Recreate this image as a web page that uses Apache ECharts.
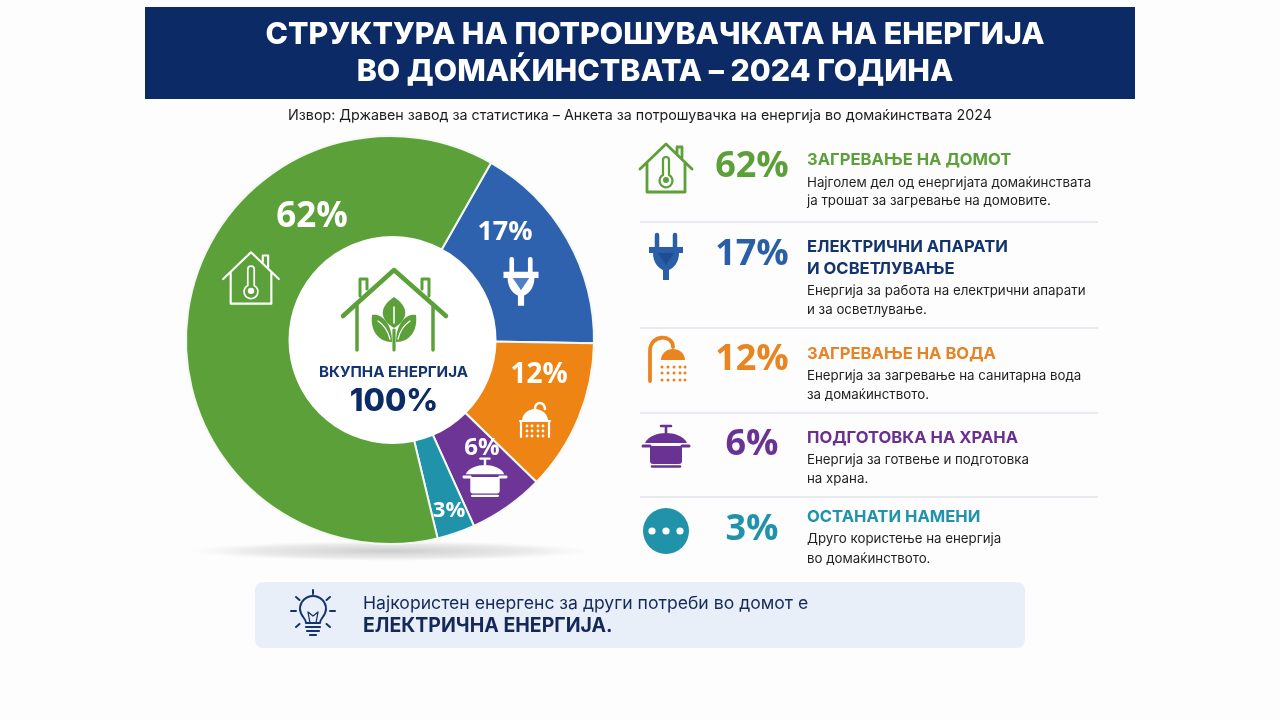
<!DOCTYPE html>
<html><head><meta charset="utf-8">
<style>html,body{margin:0;padding:0;background:#fdfdfd}#c{width:1280px;height:720px}</style>
<script src="https://cdn.jsdelivr.net/npm/echarts@6/dist/echarts.min.js"></script>
</head><body><div id="c"></div>
<script>
// ---- data ----
const categories = ['Електрични апарати и осветлување','Загревање на вода','Подготовка на храна','Останати намени','Загревање на домот'];
const shares = [17,12,6,3,62];
const sliceColors = ['#2f62ae','#ee8413','#6c3596','#2093ab','#5ca03a'];
const titleLines = ['СТРУКТУРА НА ПОТРОШУВАЧКАТА НА ЕНЕРГИЈА','ВО ДОМАЌИНСТВАТА – 2024 ГОДИНА'];
const sourceLine = 'Извор: Државен завод за статистика – Анкета за потрошувачка на енергија во домаќинствата 2024';
const centerLabel = 'ВКУПНА ЕНЕРГИЈА';
const centerValue = '100%';
const rowValues = [62,17,12,6,3];
const rowColors = ['#5ca03a','#2a5fa8','#ea8420','#6a3393','#2093ab'];
const rowHeadColors = ['#5ca03a','#14346f','#e58427','#6a2f91','#2093ab'];
const rowHeads = [['ЗАГРЕВАЊЕ НА ДОМОТ'],['ЕЛЕКТРИЧНИ АПАРАТИ','И ОСВЕТЛУВАЊЕ'],['ЗАГРЕВАЊЕ НА ВОДА'],['ПОДГОТОВКА НА ХРАНА'],['ОСТАНАТИ НАМЕНИ']];
const rowBodies = [
 ['Најголем дел од енергијата домаќинствата','ја трошат за загревање на домовите.'],
 ['Енергија за работа на електрични апарати','и за осветлување.'],
 ['Енергија за загревање на санитарна вода','за домаќинството.'],
 ['Енергија за готвење и подготовка','на храна.'],
 ['Друго користење на енергија','во домаќинството.']];
const noteLines = ['Најкористен енергенс за други потреби во домот е','ЕЛЕКТРИЧНА ЕНЕРГИЈА.'];

// ---- layout ----
const NAVY='#0b2a66', FONT='Inter', BODY='Inter', NUM='Open Sans';
const pieLabelXY = [[505,232],[539,375],[482,448],[449,511],[312,217]];
const pieLabelSize = [27,28,24,22,35];
const rowPctY = [167,255,360,445,530];
const rowHeadY = [[160],[247,269],[354],[438],[517]];
const rowBodyY = [[183,201],[291,310],[376,395],[460,479],[539,559]];
const rowRules = [222,328,413,497];
const rowIconXY = [[666,168],[666,256],[667,360],[666,446],[666,531]];

// ---- icon helpers ----
let shapeNo=0;
const P=(d,o)=>{const name='iconShape'+(shapeNo++);echarts.graphic.registerShape(name,echarts.graphic.extendPath(d,{}));return {type:name,z:20,style:o};};
const S=(d,c,w)=>P(d,{fill:null,stroke:c,lineWidth:w,lineCap:'round',lineJoin:'round'});
const F=(d,c)=>P(d,{fill:c});
const G=(x,y,s,children)=>({type:'group',x,y,scaleX:s,scaleY:s,children});
const dots=(xs,ys,r)=>{let d='';ys.forEach(y=>xs.forEach(x=>{d+=`M${x-r} ${y}a${r} ${r} 0 1 0 ${2*r} 0a${r} ${r} 0 1 0 ${-2*r} 0Z`;}));return d;};
const houseIcon=(c,w)=>[
 S('M-26 1L0 -24L26 1M-19 -5V24H19V-5M11 -15V-21H16V-10',c,w),
 S('M-3 -8a3 3 0 0 1 6 0V7a6.5 6.5 0 1 1 -6 0Z',c,w*0.8),
 F('M-3 12a3 3 0 1 0 6 0a3 3 0 1 0 -6 0Z',c)];
const plugIcon=(c,inner)=>[
 S('M-9 -21V-8M9 -21V-8',c,4.5),
 F('M-17 -9H17V-3H13C13 6 8 12 3 14V24H-3V14C-8 12 -13 6 -13 -3H-17Z',c),
 F('M-8 -3H8L0 9Z',inner)];
const showerIcon=c=>[
 S('M-17 21V-9C-17 -26 6 -26 6 -13',c,3.8),
 F('M-6 0A12 11 0 0 1 18 0Z',c),
 F(dots([-5,1,7,13,18],[7,13,20],1.5),c)];
const showerWhite=c=>[
 F('M-13 3A13 12 0 0 1 13 3Z',c),
 S('M0 -9C0 -17 9 -17 10 -9',c,2.5),
 S('M-15 3H15M-14 3V19M14 3V19',c,2.2),
 F(dots([-8,-3,3,8],[8,13,18],1.4),c)];
const potIcon=(c)=>[
 F('M-21 -3C-18 -10 -8 -13 0 -13C8 -13 18 -10 21 -3Z',c),
 S('M0 -13V-19M-5 -20H5',c,2.6),
 F('M-16 0H16V15a3 3 0 0 1 -3 3H-13a3 3 0 0 1 -3 -3Z',c),
 S('M-23 0H-16M16 0H23',c,3),
 S('M-14 20.5H14',c,2.6)];
const dotsIcon=()=>[
 F('M-23 0a23 23 0 1 0 46 0a23 23 0 1 0 -46 0Z','#2093ab'),
 F(dots([-14,0,14],[0],3.6),'#fff')];
const bulbIcon=c=>[
 S('M-7 9C-7 4 -13 2 -13 -5A13 13 0 1 1 13 -5C13 2 7 4 7 9Z',c,2),
 S('M-3 9L-5 -2M3 9L5 -2M-5 -2L0 2L5 -2',c,1.3),
 S('M-7 13H7M-6 17H6M-3 21H3',c,2.2),
 S('M0 -24V-20M-17 -17L-13.5 -14M17 -17L13.5 -14M-22 -3H-17M22 -3H17M-17 13L-13.5 10M17 13L13.5 10',c,2)];
const centerHouse=c=>[
 S('M-51 6L0 -40L52 6',c,4.5),
 S('M-37 -6V40M39 -6V40',c,3.5),
 S('M-34 -14V-31H-27V-21M28 -21V-31H35V-14',c,3),
 F('M0 -13C-15 -3 -15 9 0 18C15 9 15 -3 0 -13Z',c),
 F('M-22 5C-12 3 -2 14 -2 32C-16 32 -24 20 -22 5Z',c),
 F('M22 5C12 3 2 14 2 32C16 32 24 20 22 5Z',c),
 S('M0 -3V13',"#fff",1.6),
 S('M-16 11C-10 15 -6 21 -4 29M16 11C10 15 6 21 4 29',"#fff",1.3),
 S('M0 20V40',c,3.2)];

const T=(x,y,text,size,weight,color,align,family)=>({type:'text',x,y,z:20,style:{text,fontSize:size,fontWeight:weight,fill:color,fontFamily:family||FONT,align:align||'left',verticalAlign:'middle'}});

// ---- graphic ----
const g=[];
g.push({type:'rect',z:1,shape:{x:145,y:7,width:990,height:92},style:{fill:NAVY}});
titleLines.forEach((t,i)=>g.push(T(655,[35,72][i],t,30.3,800,'#fff','center')));
g.push(T(640,116,sourceLine,14.28,400,'#1c1c1c','center',BODY));
g.push({type:'circle',z:0,x:390,y:551,scaleX:20,scaleY:1,shape:{cx:0,cy:0,r:10},style:{fill:new echarts.graphic.RadialGradient(.5,.5,.5,[{offset:0,color:'rgba(90,90,90,.3)'},{offset:.7,color:'rgba(120,120,120,.14)'},{offset:1,color:'rgba(160,160,160,0)'}])}});
g.push({type:'circle',z:10,shape:{cx:392.5,cy:340,r:104},style:{fill:'#ffffff'}});
g.push(G(394,310,1,centerHouse('#5ca03a')));
g.push(T(393.5,372,centerLabel,15.2,700,'#14346f','center'));
g.push(T(394,402,centerValue,31,800,NAVY,'center'));
g.push(G(251,278,1.07,houseIcon('#fff',2)));
g.push(G(521,281,1.03,plugIcon('#fff','#4f7fc4')));
g.push(G(535,418,1,showerWhite('#fff')));
g.push(G(485,477,.92,potIcon('#fff')));
const rowIcons=[houseIcon(rowColors[0],2.8),plugIcon(rowColors[1],'#1f4c92'),showerIcon(rowColors[2]),potIcon(rowColors[3]),dotsIcon()];
rowValues.forEach((v,i)=>{
 g.push(G(rowIconXY[i][0],rowIconXY[i][1],1,rowIcons[i]));
 g.push(T(752,rowPctY[i],v+'%',36,700,rowColors[i],'center',NUM));
 rowHeads[i].forEach((t,j)=>g.push(T(807,rowHeadY[i][j],t,16.6,700,rowHeadColors[i])));
 rowBodies[i].forEach((t,j)=>g.push(T(807,rowBodyY[i][j],t,13.3,400,'#1f1f1f','left',BODY)));
});
rowRules.forEach(y=>g.push({type:'rect',z:5,shape:{x:640,y:y-.75,width:458,height:1.5},style:{fill:'#dfe3e8'}}));
g.push({type:'rect',z:1,shape:{x:255,y:582,width:770,height:66,r:8},style:{fill:'#e9eff8'}});
g.push(G(313,614,1,bulbIcon('#14346f')));
g.push(T(363,604,noteLines[0],17.6,400,'#14295a','left',BODY));
g.push(T(363,626,noteLines[1],19.5,700,'#14295a'));

// ---- chart ----
const chart=echarts.init(document.getElementById('c'),null,{renderer:'canvas'});
chart.setOption({
 animation:false,
 backgroundColor:'#fdfdfd',
 graphic:{elements:g},
 series:[{
  type:'pie',z:5,
  center:[390,340],radius:[100,204],
  startAngle:60.3,clockwise:true,
  silent:true,
  data:categories.map((name,i)=>({name,value:shares[i],itemStyle:{color:sliceColors[i]},label:{fontSize:pieLabelSize[i]}})),
  itemStyle:{borderColor:'#f4f8f2',borderWidth:2},
  label:{show:true,position:'inside',formatter:'{c}%',color:'#fff',fontFamily:NUM,fontWeight:700},
  labelLine:{show:false},
  labelLayout:p=>({x:pieLabelXY[p.dataIndex][0],y:pieLabelXY[p.dataIndex][1],align:'center',verticalAlign:'middle'})
 }]
});
</script></body></html>
